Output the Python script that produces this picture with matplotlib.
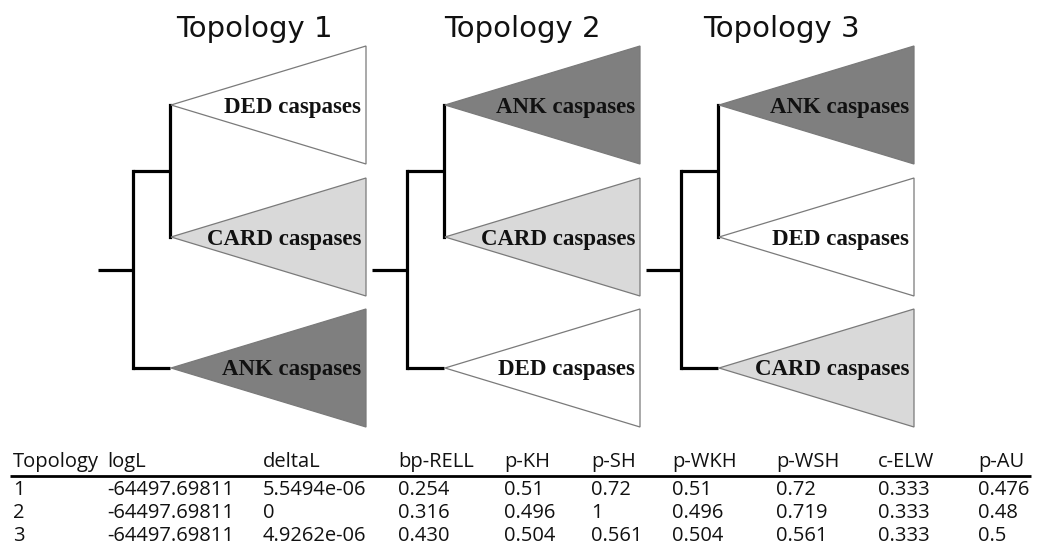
import matplotlib
matplotlib.use("Agg")
import matplotlib.pyplot as plt
from matplotlib.patches import Polygon

# ---- data ----
topology_titles = ["Topology 1", "Topology 2", "Topology 3"]
# clade order (top to bottom) for each topology
clade_orders = [
    ["DED caspases", "CARD caspases", "ANK caspases"],
    ["ANK caspases", "CARD caspases", "DED caspases"],
    ["ANK caspases", "DED caspases", "CARD caspases"],
]
clade_colors = {"DED caspases": "#ffffff", "CARD caspases": "#d9d9d9", "ANK caspases": "#7f7f7f"}

table_headers = ["Topology", "logL", "deltaL", "bp-RELL", "p-KH", "p-SH", "p-WKH", "p-WSH", "c-ELW", "p-AU"]
col_topology = ["1", "2", "3"]
col_logL = ["-64497.69811", "-64497.69811", "-64497.69811"]
col_deltaL = ["5.5494e-06", "0", "4.9262e-06"]
col_bp_rell = ["0.254", "0.316", "0.430"]
col_p_kh = ["0.51", "0.496", "0.504"]
col_p_sh = ["0.72", "1", "0.561"]
col_p_wkh = ["0.51", "0.496", "0.504"]
col_p_wsh = ["0.72", "0.719", "0.561"]
col_c_elw = ["0.333", "0.333", "0.333"]
col_p_au = ["0.476", "0.48", "0.5"]

# ---- layout (pixel coordinates) ----
W, H = 1037, 545
fig = plt.figure(figsize=(W / 100, H / 100), dpi=100)
ax = fig.add_axes([0, 0, 1, 1])
ax.set_xlim(0, W)
ax.set_ylim(H, 0)
ax.axis("off")

tree_x0 = [98, 372, 646]     # root start
title_x = [254, 522, 781]
dx_root = 35
dx_inner = 37
dx_base = 196
apex_y = [105, 237, 368]
half_h = 59
tree_lw = 2.3

for t in range(3):
    x0 = tree_x0[t]
    x1 = x0 + dx_root          # first split
    x2 = x1 + dx_inner         # second split / apex x
    xb = x2 + dx_base          # triangle base x
    y_inner = (apex_y[0] + apex_y[1]) / 2
    y_root = (y_inner + apex_y[2]) / 2
    # tree lines
    ax.plot([x0, x1], [y_root, y_root], color="black", lw=tree_lw, solid_capstyle="butt")
    ax.plot([x1, x1], [y_inner, apex_y[2]], color="black", lw=tree_lw, solid_capstyle="projecting")
    ax.plot([x1, x2], [y_inner, y_inner], color="black", lw=tree_lw, solid_capstyle="butt")
    ax.plot([x2, x2], [apex_y[0], apex_y[1]], color="black", lw=tree_lw, solid_capstyle="projecting")
    ax.plot([x1, x2], [apex_y[2], apex_y[2]], color="black", lw=tree_lw, solid_capstyle="butt")
    for i, clade in enumerate(clade_orders[t]):
        ay = apex_y[i]
        tri = Polygon([[x2 + 1, ay], [xb, ay - half_h], [xb, ay + half_h]], closed=True,
                      facecolor=clade_colors[clade], edgecolor="#7a7a7a", lw=0.9, zorder=2)
        ax.add_patch(tri)
        ax.text(xb - 5, ay + 7.5, clade, ha="right", va="baseline", fontsize=16.5,
                family="Liberation Serif", fontweight="bold", color="#111111", zorder=3)
    ax.text(title_x[t], 37, topology_titles[t], ha="center", va="baseline",
            fontsize=21, family="DejaVu Sans", color="#111111")

# ---- table ----
col_x = [13, 107, 263, 398, 504, 591, 672, 776, 878, 978]
columns = [col_topology, col_logL, col_deltaL, col_bp_rell, col_p_kh, col_p_sh,
           col_p_wkh, col_p_wsh, col_c_elw, col_p_au]
header_y = 467
row_y = [495, 518, 541]
tfont = dict(fontsize=14.5, family="Open Sans", color="#111111", va="baseline", ha="left")
for cx, hd in zip(col_x, table_headers):
    ax.text(cx, header_y, hd, **tfont)
ax.plot([10, 1031], [476, 476], color="black", lw=2.0, solid_capstyle="butt")
for cx, col in zip(col_x, columns):
    for ry, val in zip(row_y, col):
        ax.text(cx, ry, val, **tfont)

fig.savefig("out.png", dpi=100, facecolor="white")
